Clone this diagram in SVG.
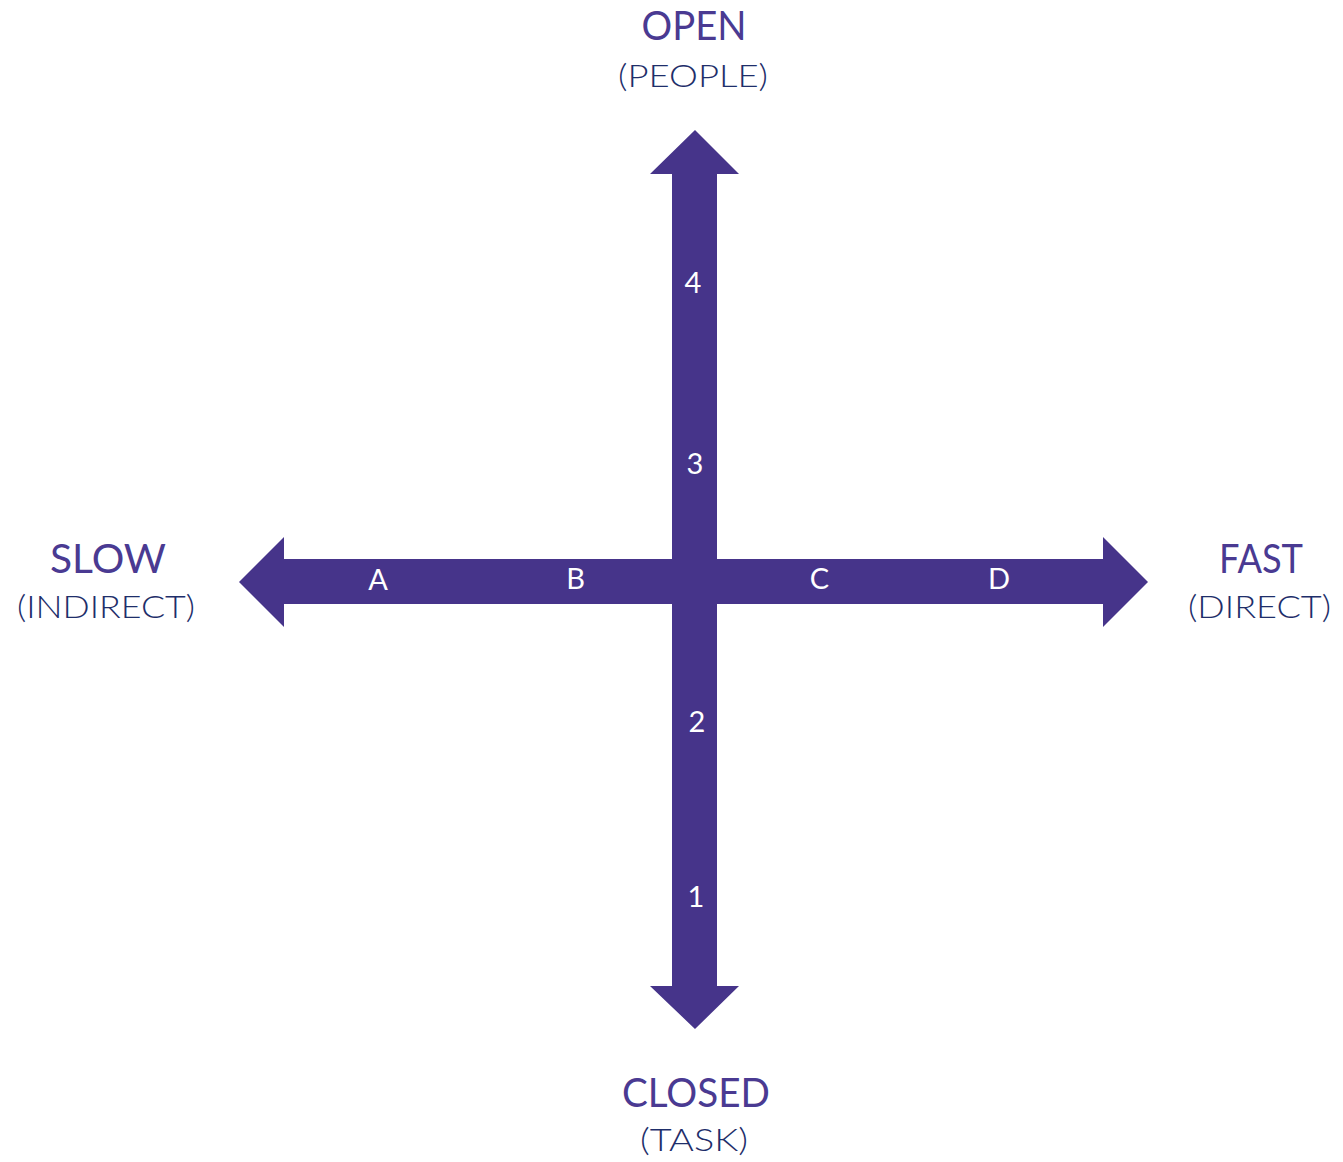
<svg xmlns="http://www.w3.org/2000/svg" width="1343" height="1162" viewBox="0 0 1343 1162">
<style>
.arrow{fill:#46348A}
.title{font-family:Lato,"Liberation Sans",sans-serif;font-size:40px;fill:#4A3A92;text-anchor:middle}
.sub{font-family:Lato,"Liberation Sans",sans-serif;font-weight:300;font-size:31px;fill:#1E2E6A;text-anchor:middle}
.lbl{font-family:Lato,"Liberation Sans",sans-serif;font-size:29px;fill:#ffffff;text-anchor:middle}
</style>
<rect width="1343" height="1162" fill="#ffffff"/>
<g id="connectors">
<polygon class="arrow" points="695,130 739,174 717,174 717,986 739,986 695,1029 650,986 672,986 672,174 650,174"/>
<polygon class="arrow" points="239,582 284,537 284,559 1103,559 1103,537 1148,582 1103,627 1103,604 284,604 284,627"/>
</g>
<g id="open">
<text class="title" x="694" y="40" textLength="105" lengthAdjust="spacingAndGlyphs">OPEN</text>
<text class="sub" x="693" y="87" textLength="150" lengthAdjust="spacingAndGlyphs">(PEOPLE)</text>
</g>
<g id="closed">
<text class="title" x="696" y="1107" textLength="148" lengthAdjust="spacingAndGlyphs">CLOSED</text>
<text class="sub" x="694" y="1151" textLength="108" lengthAdjust="spacingAndGlyphs">(TASK)</text>
</g>
<g id="slow">
<text class="title" x="108" y="573" textLength="116" lengthAdjust="spacingAndGlyphs">SLOW</text>
<text class="sub" x="106" y="618" textLength="178" lengthAdjust="spacingAndGlyphs">(INDIRECT)</text>
</g>
<g id="fast">
<text class="title" x="1261" y="573" textLength="84" lengthAdjust="spacingAndGlyphs">FAST</text>
<text class="sub" x="1259.5" y="618" textLength="143" lengthAdjust="spacingAndGlyphs">(DIRECT)</text>
</g>
<g id="labels">
<text class="lbl" x="693" y="293">4</text>
<text class="lbl" x="695" y="474">3</text>
<text class="lbl" x="697" y="732">2</text>
<text class="lbl" x="696" y="907">1</text>
<text class="lbl" x="378" y="590">A</text>
<text class="lbl" x="575.5" y="589">B</text>
<text class="lbl" x="819.5" y="589">C</text>
<text class="lbl" x="999" y="589">D</text>
</g>
</svg>
